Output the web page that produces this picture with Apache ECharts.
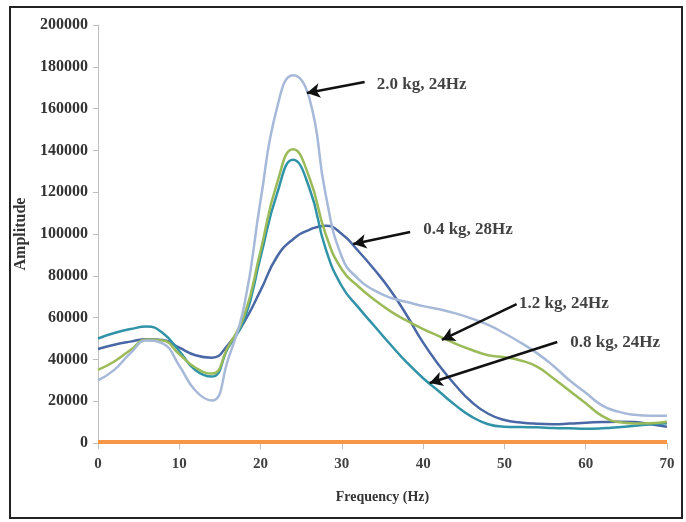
<!DOCTYPE html>
<html>
<head>
<meta charset="utf-8">
<script src="https://cdn.jsdelivr.net/npm/echarts@6/dist/echarts.min.js"></script>
<style>
  html, body { margin: 0; padding: 0; background: #fff; }
  #chart { width: 686px; height: 522px; }
</style>
</head>
<body>
<div id="chart"></div>
<script>
// Frequency sweep (Hz) shared by every curve
const freq = [0, 2, 4, 6, 8, 10, 12, 14, 16, 18, 20, 22, 24, 26, 28, 30, 32, 34,
              36, 38, 40, 42, 44, 46, 48, 50, 52, 54, 56, 58, 60, 62, 64, 66, 68, 70];

// Amplitude response for each added mass
const amp20 = [30000, 35000, 43000, 49000, 47500, 37000, 25000, 20300, 40000, 66000, 116000, 160000,
               176000, 165000, 119000, 89000, 78500, 73000, 69500, 67500, 65500, 64000, 62000, 59500,
               56500, 52500, 48000, 43000, 37000, 30000, 24000, 18000, 15000, 13500, 13000, 13000];
const amp04 = [45000, 47000, 48500, 49700, 49300, 45600, 42000, 40800, 47000, 58000, 73000, 89000,
               97500, 102000, 104000, 100000, 92000, 83000, 73000, 61000, 48000, 37000, 27500, 19500,
               14000, 11000, 9800, 9200, 9000, 9300, 9700, 10000, 10200, 10000, 9000, 7800];
const amp12 = [35000, 39000, 44500, 49500, 49000, 42500, 36000, 33200, 46000, 61000, 92000, 124000,
               140500, 127000, 100000, 83000, 75000, 68500, 63000, 58500, 54500, 51000, 47500, 44500,
               42000, 41000, 39500, 36500, 31000, 25000, 19000, 13000, 10000, 9300, 9500, 10200];
const amp08 = [50000, 52600, 54500, 55700, 52500, 44000, 34800, 31800, 45500, 59000, 89000, 119000,
               135500, 122000, 93000, 75000, 65000, 56000, 47000, 38500, 31000, 24500, 18000, 12500,
               9000, 7800, 7600, 7500, 7200, 7000, 6800, 7000, 7500, 8200, 9000, 9500];
const ampBase = [500, 500, 500, 500, 500, 500, 500, 500, 500, 500, 500, 500,
                 500, 500, 500, 500, 500, 500, 500, 500, 500, 500, 500, 500,
                 500, 500, 500, 500, 500, 500, 500, 500, 500, 500, 500, 500];

// Call-out text with its anchor and arrow (in axis units)
const noteText = ['2.0 kg, 24Hz', '0.4 kg, 28Hz', '1.2 kg, 24Hz', '0.8 kg, 24Hz'];
const noteAt = [[34.3, 171300], [40.0, 101900], [51.8, 66500], [58.1, 47800]];
const arrowFrom = [[32.8, 172700], [38.4, 100950], [51.5, 66500], [56.5, 48300]];
const arrowTo = [[25.7, 167500], [31.4, 95200], [42.3, 49300], [40.8, 28700]];

const yTicks = { min: 0, max: 200000, step: 20000 };
const xTicks = { min: 0, max: 70, step: 10 };

const serif = '"Liberation Serif", "Times New Roman", serif';
const pair = (ys) => freq.map((f, i) => [f, ys[i]]);

function curve(name, ys, color, width) {
  return {
    name: name,
    type: 'line',
    data: pair(ys),
    smooth: 0.5,
    showSymbol: false,
    symbol: 'none',
    lineStyle: { color: color, width: width },
    itemStyle: { color: color }
  };
}

const chart = echarts.init(document.getElementById('chart'), null, { renderer: 'canvas' });
chart.setOption({
  animation: false,
  backgroundColor: '#ffffff',
  grid: { left: 98, right: 19, top: 25, bottom: 79, containLabel: false },
  xAxis: {
    type: 'value',
    min: xTicks.min, max: xTicks.max, interval: xTicks.step,
    name: 'Frequency (Hz)',
    nameLocation: 'middle',
    nameGap: 47,
    nameTextStyle: { fontFamily: serif, fontWeight: 'bold', fontSize: 14, color: '#333' },
    axisLine: { show: true, lineStyle: { color: '#bfbfbf', width: 1 } },
    axisTick: { show: true, inside: false, length: 6, lineStyle: { color: '#bfbfbf' } },
    axisLabel: { margin: 14, fontFamily: serif, fontWeight: 'bold', fontSize: 15, color: '#404040' },
    splitLine: { show: false }
  },
  yAxis: {
    type: 'value',
    min: yTicks.min, max: yTicks.max, interval: yTicks.step,
    name: 'Amplitude',
    nameLocation: 'middle',
    nameGap: 63,
    nameRotate: 90,
    nameTextStyle: { fontFamily: serif, fontWeight: 'bold', fontSize: 16, color: '#333' },
    axisLine: { show: true, lineStyle: { color: '#bfbfbf', width: 1 } },
    axisTick: { show: true, inside: false, length: 5, lineStyle: { color: '#bfbfbf' } },
    axisLabel: {
      margin: 10, fontFamily: serif, fontWeight: 'bold', fontSize: 16, color: '#333',
      formatter: (v) => String(v)
    },
    splitLine: { show: false }
  },
  series: [
    curve('0.4 kg', amp04, '#4a68a6', 2.5),
    curve('0.8 kg', amp08, '#3193a8', 2.5),
    curve('1.2 kg', amp12, '#9bbb59', 2.5),
    curve('2.0 kg', amp20, '#a7b9d8', 2.5),
    curve('0 kg', ampBase, '#f79646', 4),
    {
      name: 'notes',
      type: 'scatter',
      symbolSize: 0,
      data: noteAt.map((p, i) => ({ value: p, name: noteText[i] })),
      label: {
        show: true,
        position: 'right',
        distance: 0,
        formatter: (p) => p.name,
        fontFamily: serif,
        fontWeight: 'bold',
        fontSize: 17,
        color: '#111'
      },
      markLine: {
        silent: true,
        symbol: ['none', 'arrow'],
        symbolSize: [11, 13],
        label: { show: false },
        lineStyle: { color: '#111', width: 2.5, type: 'solid' },
        data: arrowFrom.map((p, i) => [{ coord: p }, { coord: arrowTo[i] }])
      },
      z: 5
    }
  ],
  graphic: [
    {
      type: 'rect',
      shape: { x: 10, y: 7, width: 672, height: 511 },
      style: { fill: 'none', stroke: '#222', lineWidth: 2 },
      silent: true
    }
  ]
});
</script>
</body>
</html>
